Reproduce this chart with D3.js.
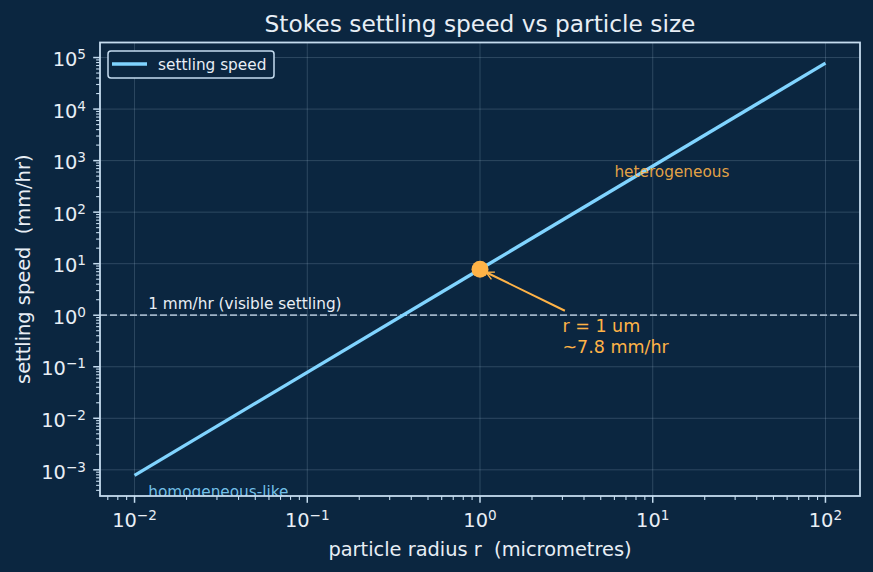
<!DOCTYPE html>
<html>
<head>
<meta charset="utf-8">
<script src="https://cdn.jsdelivr.net/npm/d3@7"></script>
<style>
  body { margin: 0; background: #0b2640; }
  svg { display: block; font-family: "DejaVu Sans", sans-serif; }
  text { white-space: pre; }
</style>
</head>
<body>
<svg width="873" height="572"></svg>
<script>
// values
var radius = [0.01, 1, 100];          // micrometres
var speed = [7.8e-4, 7.8, 7.8e4];     // mm/hr
var xDomain = [Math.pow(10, -2.2), Math.pow(10, 2.2)];
var yDomain = [Math.pow(10, -3.508), Math.pow(10, 5.292)];
var xTicks = [-2, -1, 0, 1, 2];
var yTicks = [-3, -2, -1, 0, 1, 2, 3, 4, 5];
var thresh = 1;
var marked = { r: 1, v: 7.8 };
var arrowTail = [3.1, 1.22];

var svg = d3.select('svg');
var bg = '#0b2640';
var fg = '#e8eef5';
var spineCol = '#c5dcef';
var lineCol = '#80d4ff';
var orange = '#ffb347';

var margin = { left: 100, right: 13, top: 42.5, bottom: 76 };
var width = +svg.attr('width');
var height = +svg.attr('height');
var x0 = margin.left, x1 = width - margin.right;
var y0 = margin.top, y1 = height - margin.bottom;

svg.append('rect').attr('width', width).attr('height', height).attr('fill', bg);

var x = d3.scaleLog().domain(xDomain).range([x0, x1]);
var y = d3.scaleLog().domain(yDomain).range([y1, y0]);

var defs = svg.append('defs');
defs.append('clipPath').attr('id', 'plotclip').append('rect')
	.attr('x', x0).attr('y', y0).attr('width', x1 - x0).attr('height', y1 - y0);

// grid
var grid = svg.append('g').attr('stroke', '#b8d0e8').attr('stroke-opacity', 0.2).attr('stroke-width', 1);
xTicks.forEach(function (e) {
	grid.append('line').attr('x1', x(Math.pow(10, e))).attr('x2', x(Math.pow(10, e))).attr('y1', y0).attr('y2', y1);
});
yTicks.forEach(function (e) {
	grid.append('line').attr('y1', y(Math.pow(10, e))).attr('y2', y(Math.pow(10, e))).attr('x1', x0).attr('x2', x1);
});

// minor + major ticks
var ticks = svg.append('g').attr('stroke', spineCol);
for (var e = -3; e <= 2; e++) {
	for (var m = 1; m < 10; m++) {
		var v = m * Math.pow(10, e);
		if (v < xDomain[0] || v > xDomain[1]) continue;
		ticks.append('line').attr('x1', x(v)).attr('x2', x(v)).attr('y1', y1).attr('y2', y1 + (m === 1 ? 6.8 : 3.9))
			.attr('stroke-width', m === 1 ? 1.5 : 1.1);
	}
}
for (var e = -4; e <= 5; e++) {
	for (var m = 1; m < 10; m++) {
		var v = m * Math.pow(10, e);
		if (v < yDomain[0] || v > yDomain[1]) continue;
		ticks.append('line').attr('y1', y(v)).attr('y2', y(v)).attr('x1', x0).attr('x2', x0 - (m === 1 ? 6.8 : 3.9))
			.attr('stroke-width', m === 1 ? 1.5 : 1.1);
	}
}

function powLabel(sel, e) {
	sel.append('tspan').text('10');
	sel.append('tspan').attr('dy', -7).attr('font-size', '13.6px').text(e < 0 ? '\u2212' + (-e) : e);
}

xTicks.forEach(function (e) {
	var t = svg.append('text').attr('x', x(Math.pow(10, e))).attr('y', y1 + 31)
		.attr('text-anchor', 'middle').attr('fill', fg).attr('font-size', '19.4px');
	powLabel(t, e);
});
yTicks.forEach(function (e) {
	var t = svg.append('text').attr('x', x0 - 14).attr('y', y(Math.pow(10, e)) + 8.7)
		.attr('text-anchor', 'end').attr('fill', fg).attr('font-size', '19.4px');
	powLabel(t, e);
});

// threshold line
svg.append('line').attr('x1', x0).attr('x2', x1).attr('y1', y(thresh)).attr('y2', y(thresh))
	.attr('stroke', '#9fb3c6').attr('stroke-width', 1.8).attr('stroke-dasharray', '7,3');

// main curve
var pts = radius.map(function (r, i) { return [r, speed[i]]; });
svg.append('path').datum(pts)
	.attr('d', d3.line().x(function (d) { return x(d[0]); }).y(function (d) { return y(d[1]); }))
	.attr('fill', 'none').attr('stroke', lineCol).attr('stroke-width', 3.3);

// marker
svg.append('circle').attr('cx', x(marked.r)).attr('cy', y(marked.v)).attr('r', 8.5).attr('fill', orange);

// arrow
defs.append('marker').attr('id', 'ah').attr('viewBox', '0 0 10 10')
	.attr('refX', 9).attr('refY', 5).attr('markerWidth', 5).attr('markerHeight', 5)
	.attr('markerUnits', 'strokeWidth')
	.attr('orient', 'auto').append('path').attr('d', 'M1,1 L9,5 L1,9').attr('fill', 'none')
	.attr('stroke', orange).attr('stroke-width', 1.4);
svg.append('line').attr('x1', x(arrowTail[0])).attr('y1', y(arrowTail[1]))
	.attr('x2', x(marked.r) + 6).attr('y2', y(marked.v) + 3)
	.attr('stroke', orange).attr('stroke-width', 2).attr('marker-end', 'url(#ah)');

var ann = svg.append('text').attr('fill', orange).attr('font-size', '17.5px');
ann.append('tspan').attr('x', x(3)).attr('y', 332).text('r = 1 um');
ann.append('tspan').attr('x', x(3)).attr('y', 352.5).text('~7.8 mm/hr');

svg.append('text').attr('x', x(0.012)).attr('y', 309).attr('fill', fg)
	.attr('font-size', '15.3px').text('1 mm/hr (visible settling)');
svg.append('text').attr('x', x(0.012)).attr('y', 497).attr('fill', lineCol).attr('fill-opacity', 0.9)
	.attr('clip-path', 'url(#plotclip)').attr('font-size', '15.3px').text('homogeneous-like');
svg.append('text').attr('x', x(6)).attr('y', 176.5).attr('fill', orange).attr('fill-opacity', 0.9)
	.attr('font-size', '15.3px').text('heterogeneous');

// spines
svg.append('rect').attr('x', x0).attr('y', y0).attr('width', x1 - x0).attr('height', y1 - y0)
	.attr('fill', 'none').attr('stroke', spineCol).attr('stroke-width', 1.8);

// legend
var lg = svg.append('g');
lg.append('rect').attr('x', 108).attr('y', 51).attr('width', 166).attr('height', 27).attr('rx', 3)
	.attr('fill', bg).attr('stroke', spineCol).attr('stroke-width', 1.5);
lg.append('line').attr('x1', 112).attr('x2', 147).attr('y1', 64).attr('y2', 64)
	.attr('stroke', lineCol).attr('stroke-width', 3.3);
lg.append('text').attr('x', 158).attr('y', 69.5).attr('fill', fg).attr('font-size', '15.3px').text('settling speed');

// titles
svg.append('text').attr('x', (x0 + x1) / 2).attr('y', 32).attr('text-anchor', 'middle')
	.attr('fill', fg).attr('font-size', '23.3px').text('Stokes settling speed vs particle size');
svg.append('text').attr('x', (x0 + x1) / 2).attr('y', 556).attr('text-anchor', 'middle')
	.attr('fill', fg).attr('font-size', '19.4px').text('particle radius r  (micrometres)');
svg.append('text').attr('transform', 'translate(30,' + ((y0 + y1) / 2) + ') rotate(-90)')
	.attr('text-anchor', 'middle').attr('fill', fg).attr('font-size', '19.4px').text('settling speed  (mm/hr)');
</script>
</body>
</html>
